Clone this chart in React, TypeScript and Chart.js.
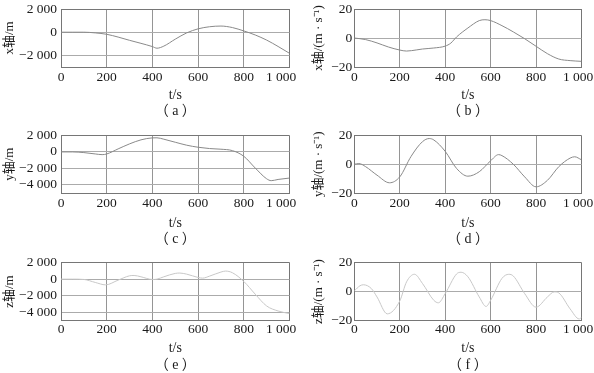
import React, { useEffect, useRef } from "react";
import { Chart, registerables } from "chart.js";

Chart.register(...registerables);

const W = 594;
const H = 373;

// ---------- data ----------
const xPosTime = [0, 50, 100, 150, 200, 250, 300, 350, 400, 420, 450, 500, 550, 600, 650, 700, 750, 800, 850, 900, 950, 1000];
const xPosValue = [0, 0, 0, -60, -180, -420, -700, -960, -1240, -1380, -1200, -600, -60, 290, 470, 530, 400, 110, -240, -680, -1230, -1820];

const xVelTime = [0, 50, 100, 150, 200, 230, 275, 300, 350, 400, 425, 450, 500, 550, 575, 600, 650, 700, 750, 800, 850, 900, 950, 1000];
const xVelValue = [0, -1.1, -3.4, -6.2, -8.3, -9.0, -8.2, -7.6, -6.9, -5.6, -3.5, 0.7, 6.9, 12, 12.6, 12, 8.5, 4.2, -0.5, -5.7, -10.8, -14.5, -15.6, -16.1];

const yPosTime = [0, 50, 100, 150, 180, 200, 250, 300, 350, 400, 420, 450, 500, 550, 600, 650, 700, 750, 800, 850, 900, 920, 950, 1000];
const yPosValue = [0, 0, -80, -245, -330, -250, 370, 980, 1470, 1710, 1720, 1550, 1180, 820, 570, 410, 330, 160, -530, -1960, -3270, -3500, -3350, -3180];

const yVelTime = [0, 20, 50, 100, 155, 200, 250, 300, 330, 350, 400, 450, 500, 550, 600, 635, 650, 700, 750, 800, 850, 900, 950, 970, 1000];
const yVelValue = [0, 0.5, -1.7, -7.6, -12.9, -8.8, 5.5, 15.7, 17.9, 16.9, 9, -2.9, -8.3, -5.2, 2.4, 6.7, 6.0, 0, -8.8, -15.7, -11.2, -1.7, 4.3, 5.2, 3.1];

const zPosTime = [0, 50, 100, 150, 195, 250, 300, 320, 350, 400, 420, 450, 500, 520, 550, 600, 620, 650, 700, 720, 750, 800, 850, 900, 950, 1000];
const zPosValue = [0, 0, -40, -400, -690, -120, 400, 440, 280, -40, 0, 280, 690, 730, 600, 200, 120, 360, 850, 970, 770, -280, -1810, -3230, -3830, -4150];

const zVelTime = [0, 25, 40, 75, 100, 145, 200, 230, 265, 300, 350, 370, 400, 450, 470, 500, 550, 580, 600, 650, 680, 700, 750, 800, 850, 880, 900, 950, 990, 1000];
const zVelValue = [0.5, 4, 4.7, 2.1, -3.7, -15.3, -6.5, 6.7, 11.9, 5.6, -6, -7.7, -1.4, 12.1, 13.3, 10.2, -3.7, -10.2, -6, 9.1, 11.9, 10.7, -1.4, -10.7, -3.7, -0.2, -0.9, -11.9, -18.8, -17.7];

const timeTicks = [0, 200, 400, 600, 800, 1000];
const posTicksShort = [-2000, 0, 2000];
const posTicksLong = [-4000, -2000, 0, 2000];
const velTicks = [-20, 0, 20];

const xAxisTitle = "t/s";
const yTitles = ["x轴/m", "x轴/(m · s⁻¹)", "y轴/m", "y轴/(m · s⁻¹)", "z轴/m", "z轴/(m · s⁻¹)"];
const captions = ["（ a ）", "（ b ）", "（ c ）", "（ d ）", "（ e ）", "（ f ）"];

// ---------- styles ----------
const darkLine = "#8a8a8a";
const lightLine = "#c8c8c8";
const textColor = "#1a1a1a";
const xGridColor = "#959595";
const yGridColor = "#ababab";
const borderColor = "#767676";

const serif = "'Liberation Serif', 'Times New Roman', serif";
const tickFont = { family: serif, size: 13.5, lineHeight: 1.2, weight: "normal" };
const xTitleFont = { family: serif, size: 14, lineHeight: 1.2, weight: "normal" };
const yTitleFont = { family: "'Liberation Serif', 'Noto Sans CJK SC', serif", size: 13, lineHeight: 1.2, weight: "normal" };
const capFont = { family: "'Liberation Serif', 'Noto Sans CJK SC', serif", size: 14, lineHeight: 1, weight: "normal" };

const rows = [
  { T: 9, B: 67, tickC: 77.3, titleC: 95.5, capC: 106.2 },
  { T: 135.5, B: 193, tickC: 203.8, titleC: 223.5, capC: 239 },
  { T: 262.5, B: 320.7, tickC: 329.7, titleC: 348.7, capC: 365 },
];
const cols = [
  { px: 0, L: 61, R: 289.5, yTitleC: 10, yTickPad: 4, lastSpaces: "     " },
  { px: 297, L: 354.3, R: 581.5, yTitleC: 318.5, yTickPad: 2, lastSpaces: "  " },
];

type PanelCfg = {
  times: number[];
  values: number[];
  yMin: number;
  yMax: number;
  yTicks: number[];
  yTitle: string;
  caption: string;
  color: string;
  row: number;
  col: number;
};

const panels: PanelCfg[] = [
  { times: xPosTime, values: xPosValue, yMin: -3000, yMax: 2000, yTicks: posTicksShort, yTitle: yTitles[0], caption: captions[0], color: darkLine, row: 0, col: 0 },
  { times: xVelTime, values: xVelValue, yMin: -20, yMax: 20, yTicks: velTicks, yTitle: yTitles[1], caption: captions[1], color: darkLine, row: 0, col: 1 },
  { times: yPosTime, values: yPosValue, yMin: -5000, yMax: 2000, yTicks: posTicksLong, yTitle: yTitles[2], caption: captions[2], color: darkLine, row: 1, col: 0 },
  { times: yVelTime, values: yVelValue, yMin: -20, yMax: 20, yTicks: velTicks, yTitle: yTitles[3], caption: captions[3], color: darkLine, row: 1, col: 1 },
  { times: zPosTime, values: zPosValue, yMin: -5000, yMax: 2000, yTicks: posTicksLong, yTitle: yTitles[4], caption: captions[4], color: lightLine, row: 2, col: 0 },
  { times: zVelTime, values: zVelValue, yMin: -20, yMax: 20, yTicks: velTicks, yTitle: yTitles[5], caption: captions[5], color: lightLine, row: 2, col: 1 },
];

function fmt(v: number): string {
  const s = Math.abs(v).toString().replace(/\B(?=(\d{3})+(?!\d))/g, " ");
  return (v < 0 ? "\u2212" : "") + s;
}

function Panel({ cfg }: { cfg: PanelCfg }) {
  const ref = useRef<HTMLCanvasElement>(null);
  useEffect(() => {
    const row = rows[cfg.row];
    const col = cols[cfg.col];
    const tickLh = tickFont.size * tickFont.lineHeight;
    const xTitleLh = xTitleFont.size * xTitleFont.lineHeight;
    const capLh = capFont.size * capFont.lineHeight;
    const yTitleLh = yTitleFont.size * yTitleFont.lineHeight;
    const xTickPad = row.tickC - row.B - tickLh / 2;
    const xH = row.titleC - row.B + xTitleLh / 2;
    const capPadTop = Math.max(0, row.capC - row.B - xH - capLh / 2);
    const padBottom = H - (row.B + xH + capPadTop + capLh);

    const chart = new Chart(ref.current as HTMLCanvasElement, {
      type: "line",
      data: {
        datasets: [
          {
            data: cfg.times.map((t, i) => ({ x: t, y: cfg.values[i] })),
            borderColor: cfg.color,
            borderWidth: 1,
            pointRadius: 0,
            fill: false,
            cubicInterpolationMode: "monotone",
          },
        ],
      },
      options: {
        responsive: false,
        animation: false,
        devicePixelRatio: 1,
        events: [],
        layout: { padding: { left: col.px, right: W - col.R, top: row.T, bottom: padBottom } },
        plugins: {
          legend: { display: false },
          tooltip: { enabled: false },
          title: {
            display: true,
            text: cfg.caption,
            position: "bottom",
            fullSize: false,
            font: capFont,
            color: textColor,
            padding: { top: capPadTop, bottom: 0 },
          },
        },
        scales: {
          x: {
            type: "linear",
            min: 0,
            max: 1000,
            afterBuildTicks: (axis: any) => {
              axis.ticks = timeTicks.map((v) => ({ value: v }));
            },
            afterFit: (s: any) => {
              s.height = xH;
              s.paddingLeft = 0;
              s.paddingRight = 0;
            },
            ticks: {
              font: tickFont,
              color: textColor,
              padding: xTickPad,
              maxRotation: 0,
              autoSkip: false,
              callback: (v: any) => (v === 1000 ? fmt(v) + col.lastSpaces : fmt(v)),
            },
            grid: {
              color: (c: any) => (c.tick && c.tick.value === 1000 ? borderColor : xGridColor),
              lineWidth: 1,
              drawTicks: false,
            },
            border: { color: borderColor, width: 1 },
            title: { display: true, text: xAxisTitle, font: xTitleFont, color: textColor, padding: 0 },
          },
          y: {
            type: "linear",
            min: cfg.yMin,
            max: cfg.yMax,
            afterBuildTicks: (axis: any) => {
              axis.ticks = cfg.yTicks.map((v) => ({ value: v }));
            },
            afterFit: (s: any) => {
              s.width = col.L - col.px;
              s.paddingTop = 0;
              s.paddingBottom = 0;
            },
            ticks: {
              font: tickFont,
              color: textColor,
              padding: col.yTickPad,
              autoSkip: false,
              callback: (v: any) => fmt(v),
            },
            grid: {
              color: (c: any) => (c.tick && c.tick.value === cfg.yMax ? borderColor : yGridColor),
              lineWidth: 1,
              drawTicks: false,
            },
            border: { color: borderColor, width: 1 },
            title: {
              display: true,
              text: cfg.yTitle,
              font: yTitleFont,
              color: textColor,
              padding: { top: col.yTitleC - col.px - yTitleLh / 2, bottom: 0 },
            },
          },
        },
      } as any,
    });
    return () => chart.destroy();
  }, [cfg]);
  return (
    <canvas
      ref={ref}
      width={W}
      height={H}
      style={{ position: "absolute", left: 0, top: 0, width: W, height: H }}
    />
  );
}

export default function App() {
  return (
    <div style={{ position: "fixed", left: 0, top: 0, width: W, height: H, background: "#ffffff" }}>
      {panels.map((p, i) => (
        <Panel key={i} cfg={p} />
      ))}
    </div>
  );
}
